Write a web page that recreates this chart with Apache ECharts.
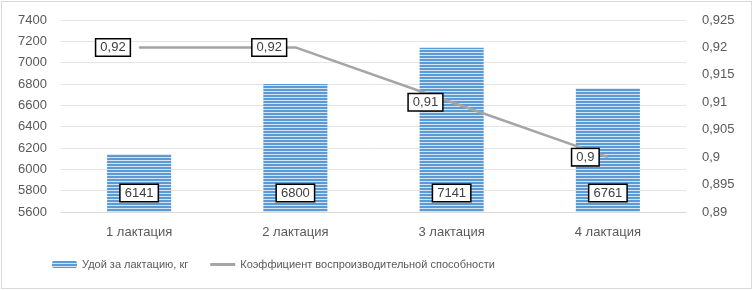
<!DOCTYPE html>
<html>
<head>
<meta charset="utf-8">
<script src="https://cdn.jsdelivr.net/npm/echarts@6/dist/echarts.min.js"></script>
<style>
    html, body { margin: 0; padding: 0; background: #fff; }
    #chart {
        position: absolute;
        left: 1px;
        top: 1px;
        width: 749px;
        height: 286px;
        border: 1px solid #d9d9d9;
    }
</style>
</head>
<body>
<div id="chart"></div>
<script>
// категории
const categories = ["1 лактация", "2 лактация", "3 лактация", "4 лактация"];
// Удой за лактацию, кг
const milkYield = [6141, 6800, 7141, 6761];
// Коэффициент воспроизводительной способности
const reproCoef = [0.92, 0.92, 0.91, 0.9];

const font = "Liberation Sans";

// штриховка столбцов горизонтальными линиями
function stripePattern() {
    const c = document.createElement("canvas");
    c.width = 4;
    c.height = 3;
    const ctx = c.getContext("2d");
    ctx.fillStyle = "#d3e3f3";
    ctx.fillRect(0, 0, 4, 3);
    ctx.fillStyle = "#5b9bd5";
    ctx.fillRect(0, 0, 4, 2);
    return { image: c, repeat: "repeat" };
}

const boxLabel = {
    show: true,
    fontFamily: font,
    fontSize: 13,
    color: "#404040",
    backgroundColor: "#fff",
    borderColor: "#000",
    borderWidth: 1.5,
    padding: [2, 4, 1, 4],
};

const chart = echarts.init(document.getElementById("chart"));
chart.setOption({
    animation: false,
    textStyle: { fontFamily: font },
    grid: {
        left: 59,
        right: 65,
        top: 18,
        bottom: 76,
    },
    legend: {
        bottom: 13,
        left: 45,
        itemWidth: 25,
        itemHeight: 7,
        itemGap: 22,
        textStyle: { fontFamily: font, fontSize: 11, color: "#595959" },
        data: [
            { name: "Удой за лактацию, кг" },
            { name: "Коэффициент воспроизводительной способности", icon: "path://M0,0H25V3H0Z" },
        ],
    },
    xAxis: {
        type: "category",
        data: categories,
        axisLine: { lineStyle: { color: "#d9d9d9" } },
        axisTick: { show: false },
        axisLabel: { fontSize: 13, color: "#595959", margin: 14 },
    },
    yAxis: [
        {
            type: "value",
            min: 5600,
            max: 7400,
            interval: 200,
            axisLine: { show: false },
            axisTick: { show: false },
            axisLabel: {
                fontSize: 13,
                color: "#595959",
                margin: 14,
                formatter: (v) => String(v),
            },
            splitLine: { lineStyle: { color: "#e4e4e4" } },
        },
        {
            type: "value",
            min: 0.89,
            max: 0.925,
            interval: 0.005,
            axisLine: { show: false },
            axisTick: { show: false },
            splitLine: { show: false },
            axisLabel: {
                fontSize: 13,
                color: "#595959",
                margin: 16,
                formatter: (v) => String(+v.toFixed(3)).replace(".", ","),
            },
        },
    ],
    series: [
        {
            name: "Удой за лактацию, кг",
            type: "bar",
            barWidth: "41%",
            data: milkYield,
            itemStyle: { color: stripePattern() },
            label: Object.assign({}, boxLabel, {
                position: "insideBottom",
                distance: 11,
            }),
        },
        {
            name: "Коэффициент воспроизводительной способности",
            type: "line",
            yAxisIndex: 1,
            data: reproCoef,
            symbol: "circle",
            symbolSize: 1,
            itemStyle: { color: "#a5a5a5" },
            lineStyle: { color: "#a5a5a5", width: 2.5 },
            label: Object.assign({}, boxLabel, {
                position: "left",
                distance: 9,
                formatter: (p) => String(p.value).replace(".", ","),
            }),
        },
    ],
});
</script>
</body>
</html>
